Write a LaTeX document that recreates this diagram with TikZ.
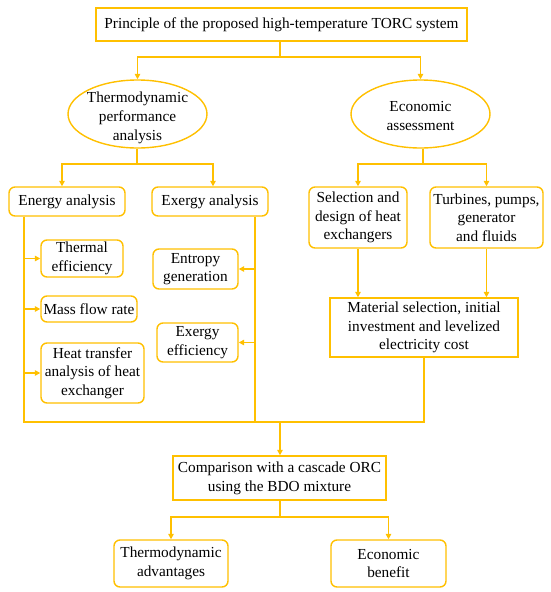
\documentclass[tikz,border=0pt]{standalone}
\usepackage{fontspec}
\setmainfont{Liberation Serif}
\usetikzlibrary{shapes.geometric,arrows.meta}
\definecolor{gold}{RGB}{255,192,0}
\tikzset{
  every node/.style={font=\fontsize{15.3}{18.7}\selectfont, align=center, inner sep=0pt},
  sqbox/.style={draw=gold, line width=1.4pt, fill=white},
  rbox/.style={draw=gold, line width=1.4pt, fill=white, rounded corners=6pt},
  ellbox/.style={draw=gold, line width=1.4pt, ellipse, fill=white},
  conn/.style={draw=gold, line width=1.4pt},
  arr/.style={conn, -{Triangle[length=5.5pt,width=5.5pt]}},
}
\begin{document}
\begin{tikzpicture}[x=1pt,y=-1pt]
\useasboundingbox (0,0) rectangle (550,592);
% nodes
\node[sqbox, minimum width=371pt, minimum height=33pt] (top) at (281.5,24.5) {Principle of the proposed high-temperature TORC system};
\node[ellbox, minimum width=139pt, minimum height=68pt] (ell1) at (137.5,114) {};
\node at (137.5,118) {Thermodynamic\\performance\\analysis};
\node[ellbox, minimum width=139pt, minimum height=68pt] (ell2) at (420.5,114) {};
\node at (420.5,116) {Economic\\assessment};
\node[rbox, minimum width=116pt, minimum height=29pt] (energy) at (67,201.5) {Energy analysis};
\node[rbox, minimum width=116pt, minimum height=29pt] (exergy) at (210,201.5) {Exergy analysis};
\node[rbox, minimum width=98pt, minimum height=61pt] (sel) at (358,217.5) {Selection and\\design of heat\\exchangers};
\node[rbox, minimum width=113pt, minimum height=61pt] (turb) at (486.5,217.5) {Turbines, pumps,\\generator\\and fluids};
\node[rbox, minimum width=82pt, minimum height=37pt] (theff) at (82,258.5) {Thermal\\efficiency};
\node[rbox, minimum width=96pt, minimum height=26pt] (mass) at (89,309) {Mass flow rate};
\node[rbox, minimum width=103pt, minimum height=60pt] (heat) at (92.5,373) {Heat transfer\\analysis of heat\\exchanger};
\node[rbox, minimum width=85pt, minimum height=40pt] (entr) at (195.5,269) {Entropy\\generation};
\node[rbox, minimum width=81pt, minimum height=39pt] (exeff) at (197.5,342.5) {Exergy\\efficiency};
\node[sqbox, minimum width=188pt, minimum height=59pt] (mat) at (424,327.5) {Material selection, initial\\investment and levelized\\electricity cost};
\node[sqbox, minimum width=213pt, minimum height=44pt] (comp) at (279.5,478) {Comparison with a cascade ORC\\using the BDO mixture};
\node[rbox, minimum width=114pt, minimum height=47pt] (adv) at (171,563.5) {Thermodynamic\\advantages};
\node[rbox, minimum width=115pt, minimum height=47pt] (ben) at (388.5,563.5) {Economic\\benefit};
% junctions
\coordinate (j1) at (280,57);
\coordinate (j2) at (137,164);
\coordinate (j3) at (423,164);
\coordinate (eL) at (24,422);
\coordinate (xR) at (255,422);
\coordinate (jb) at (280,422);
\coordinate (jc) at (280,517);
% connectors
\draw[conn] (top.south -| j1) -- (j1);
\draw[arr] (j1) -| (ell1.north);
\draw[arr] (j1) -| (ell2.north);
\draw[conn] (ell1.south -| j2) -- (j2);
\draw[arr] (j2) -| ([xshift=-5pt]energy.north);
\draw[arr] (j2) -| ([xshift=3pt]exergy.north);
\draw[conn] (ell2.south -| j3) -- (j3);
\draw[arr] (j3) -| (sel.north);
\draw[arr] (j3) -| (turb.north);
\draw[arr] (sel.south) -- (sel.south |- mat.north);
\draw[arr] (turb.south) -- (turb.south |- mat.north);
\draw[conn] (energy.south -| eL) -- (eL) -- (eL -| mat.south) -- (mat.south);
\draw[conn] (exergy.south -| xR) -- (xR);
\draw[arr] (theff.west -| eL) -- (theff.west);
\draw[arr] (mass.west -| eL) -- (mass.west);
\draw[arr] (heat.west -| eL) -- (heat.west);
\draw[arr] (entr.east -| xR) -- (entr.east);
\draw[arr] (exeff.east -| xR) -- (exeff.east);
\draw[arr] (jb) -- (jb |- comp.north);
\draw[conn] (comp.south -| jc) -- (jc);
\draw[arr] (jc) -| (adv.north);
\draw[arr] (jc) -| (ben.north);
\end{tikzpicture}
\end{document}
